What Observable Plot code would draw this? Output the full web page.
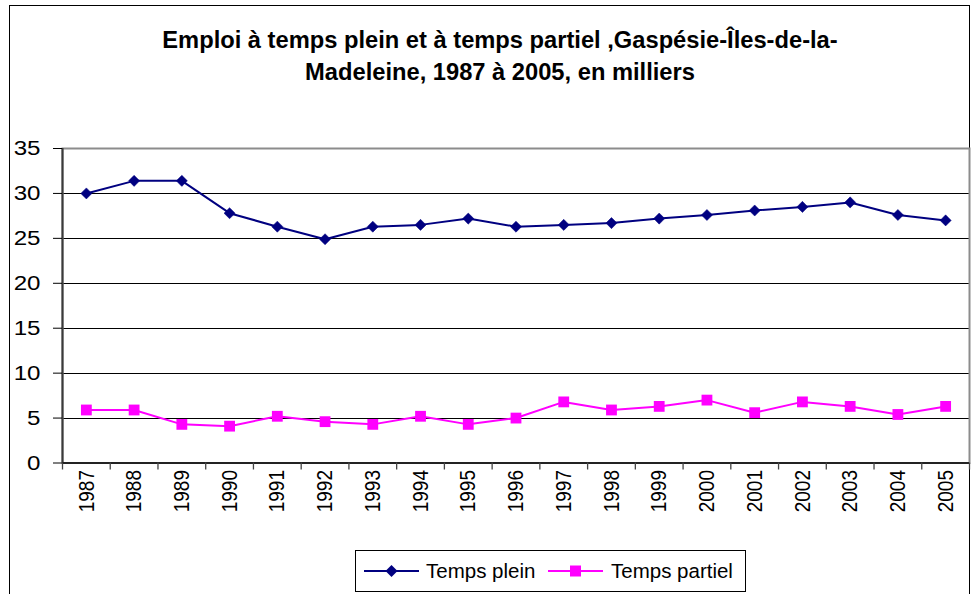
<!DOCTYPE html>
<html>
<head>
<meta charset="utf-8">
<script src="https://cdn.jsdelivr.net/npm/d3@7"></script>
<script src="https://cdn.jsdelivr.net/npm/@observablehq/plot@0.6"></script>
<style>
  html, body { margin: 0; padding: 0; background: #fff; }
  #wrap { position: relative; width: 973px; height: 594px; overflow: hidden; font-family: "Liberation Sans", Arial, sans-serif; color: #000; }
  #outer { position: absolute; left: 9px; top: 5px; width: 961px; height: 700px; border: 1.5px solid #000; box-sizing: border-box; }
  #title { position: absolute; left: 500px; top: 24px; transform: translateX(-50%) scaleX(1.03); white-space: nowrap; text-align: center; font-weight: bold; font-size: 23px; line-height: 32px; }
  #chart { position: absolute; left: 0; top: 0; }
  #legend { position: absolute; left: 355px; top: 550px; width: 391px; height: 42px; border: 1px solid #000; box-sizing: border-box; background: #fff; }
  .sw { position: absolute; top: 10px; }
  .lt { position: absolute; top: 8px; font-size: 20.5px; line-height: 24px; white-space: nowrap; }
</style>
</head>
<body>
<div id="wrap">
  <div id="outer"></div>
  <div id="chart"></div>
  <div id="title"></div>
  <div id="legend"></div>
</div>
<script>
// ---- data ----
const years = [1987, 1988, 1989, 1990, 1991, 1992, 1993, 1994, 1995, 1996, 1997, 1998, 1999, 2000, 2001, 2002, 2003, 2004, 2005];
const tempsPlein = [30.0, 31.4, 31.4, 27.8, 26.3, 24.9, 26.3, 26.5, 27.2, 26.3, 26.5, 26.7, 27.2, 27.6, 28.1, 28.5, 29.0, 27.6, 27.0];
const tempsPartiel = [5.9, 5.9, 4.3, 4.1, 5.2, 4.6, 4.3, 5.2, 4.3, 5.0, 6.8, 5.9, 6.3, 7.0, 5.6, 6.8, 6.3, 5.4, 6.3];
const seriesNames = ["Temps plein", "Temps partiel"];
const seriesColors = ["#000080", "#FF00FF"];
const yTicks = [0, 5, 10, 15, 20, 25, 30, 35];
const titleLines = ["Emploi à temps plein et à temps partiel ,Gaspésie-Îles-de-la-", "Madeleine, 1987 à 2005, en milliers"];

// ---- build table ----
const rows = [];
years.forEach((yr, i) => {
  rows.push({year: yr, value: tempsPlein[i], series: seriesNames[0]});
  rows.push({year: yr, value: tempsPartiel[i], series: seriesNames[1]});
});
const boundaries = years.map(y => y - 0.5).concat([years[years.length - 1] + 0.5]);
const xDomain = [boundaries[0], boundaries[boundaries.length - 1]];

const chart = Plot.plot({
  width: 973,
  height: 594,
  marginLeft: 62,
  marginRight: 4,
  marginTop: 148,
  marginBottom: 131.5,
  style: {fontFamily: "'Liberation Sans', Arial, sans-serif", fontSize: "21px", color: "#000", background: "transparent"},
  x: {type: "linear", domain: xDomain, label: null},
  y: {domain: [yTicks[0], yTicks[yTicks.length - 1]], label: null},
  color: {domain: seriesNames, range: seriesColors},
  marks: [
    Plot.ruleY(yTicks.filter(d => d > yTicks[0] && d < yTicks[yTicks.length - 1]), {stroke: "#000", strokeWidth: 1, shapeRendering: "crispEdges"}),
    Plot.frame({stroke: "#8c8c8c", strokeWidth: 2}),
    Plot.ruleX([xDomain[0]], {stroke: "#3a3a3a", strokeWidth: 2}),
    Plot.ruleY([yTicks[0]], {stroke: "#000", strokeWidth: 1.5}),
    Plot.axisY({ticks: yTicks, label: null, tickSize: 9, tickPadding: 13, fontSize: 21, tickFormat: d => String(d), stroke: "#000", strokeWidth: 1}),
    Plot.axisX({ticks: boundaries, label: null, tickSize: 7, tickFormat: () => "", stroke: "#444", strokeWidth: 1.3}),
    Plot.axisX({ticks: years, label: null, tickSize: 0, tickPadding: 7, tickRotate: -90, fontSize: 19, tickFormat: d => String(d)}),
    Plot.line(rows, {x: "year", y: "value", z: "series", stroke: "series", strokeWidth: 2}),
    Plot.dot(rows.filter(d => d.series === seriesNames[0]), {x: "year", y: "value", symbol: "diamond2", fill: "series", stroke: "series", strokeWidth: 0.5, r: 5}),
    Plot.dot(rows.filter(d => d.series === seriesNames[1]), {x: "year", y: "value", symbol: "square", fill: "series", stroke: "none", r: 6.1})
  ]
});
document.getElementById("chart").appendChild(chart);

// widen tick label glyphs horizontally (reference text is horizontally stretched)
chart.querySelectorAll("text").forEach(el => {
  const tr = el.getAttribute("transform") || "";
  if (!el.textContent) return;
  if (/rotate/.test(tr)) {
    el.setAttribute("transform", tr + " scale(1,1.18)");
  } else if (tr) {
    el.setAttribute("transform", tr + " scale(1.15,1)");
  }
});

// ---- title ----
const t = document.getElementById("title");
titleLines.forEach((line, i) => {
  if (i > 0) t.appendChild(document.createElement("br"));
  t.appendChild(document.createTextNode(line));
});

// ---- legend ----
const legend = document.getElementById("legend");
const swLeft = [8, 192];
const txtLeft = [70, 255];
seriesNames.forEach((name, i) => {
  const ns = "http://www.w3.org/2000/svg";
  const svg = document.createElementNS(ns, "svg");
  svg.setAttribute("width", 56);
  svg.setAttribute("height", 20);
  svg.setAttribute("class", "sw");
  svg.style.left = swLeft[i] + "px";
  const ln = document.createElementNS(ns, "line");
  ln.setAttribute("x1", 0); ln.setAttribute("x2", 55);
  ln.setAttribute("y1", 10); ln.setAttribute("y2", 10);
  ln.setAttribute("stroke", seriesColors[i]); ln.setAttribute("stroke-width", 2);
  svg.appendChild(ln);
  const mk = document.createElementNS(ns, "path");
  mk.setAttribute("transform", "translate(27.5,10)");
  mk.setAttribute("d", i === 0 ? "M0,-6L6,0L0,6L-6,0Z" : "M-5.5,-5.5H5.5V5.5H-5.5Z");
  mk.setAttribute("fill", seriesColors[i]);
  svg.appendChild(mk);
  legend.appendChild(svg);
  const tx = document.createElement("div");
  tx.className = "lt";
  tx.style.left = txtLeft[i] + "px";
  tx.textContent = name;
  legend.appendChild(tx);
});
</script>
</body>
</html>
